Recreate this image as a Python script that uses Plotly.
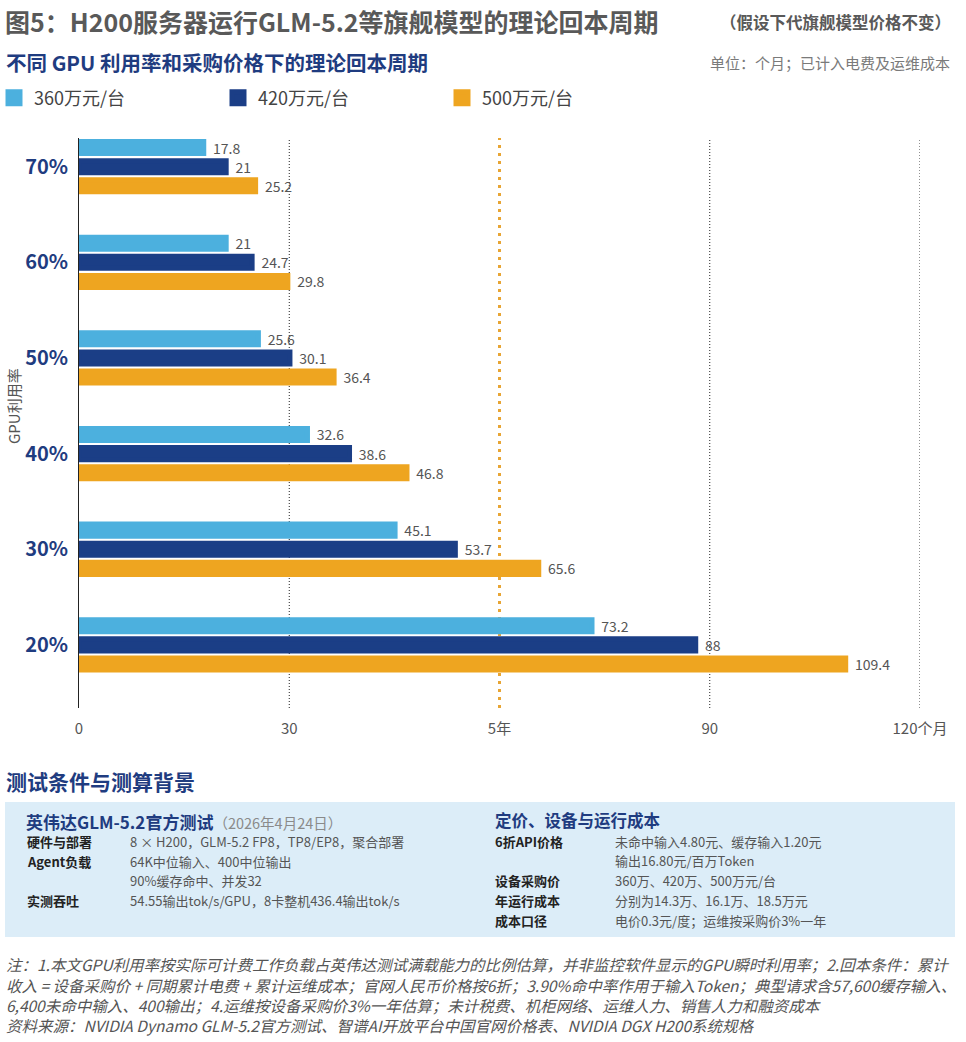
import plotly.graph_objects as go

# ---------------- data ----------------
utilization = ['20%', '30%', '40%', '50%', '60%', '70%']
series_names = ['360万元/台', '420万元/台', '500万元/台']
payback_360 = [73.2, 45.1, 32.6, 25.6, 21, 17.8]
payback_420 = [88, 53.7, 38.6, 30.1, 24.7, 21]
payback_500 = [109.4, 65.6, 46.8, 36.4, 29.8, 25.2]
x_tick_vals = [0, 30, 60, 90, 120]
x_tick_text = ['0', '30', '5年', '90', '120个月']
grid_vals = [30, 90, 120]
five_year_mark = 60

COLORS = ['#4cb0de', '#1b3e86', '#eea520']
FONT = 'Noto Sans CJK SC'

W, H = 966, 1042
L, R, T, B = 79, 920, 138, 708


def px2x(px):
    return (px - L) / (R - L)


def py2y(py):
    return (B - py) / (B - T)


fig = go.Figure()
series = [payback_360, payback_420, payback_500]
# add in reverse so that the 360 series sits at the top of each group
for name, vals, col in reversed(list(zip(series_names, series, COLORS))):
    fig.add_trace(go.Bar(
        y=utilization, x=vals, name=name, orientation='h',
        marker=dict(color=col, line=dict(width=5, color=col)),
        text=vals, texttemplate='\u00a0\u00a0%{x}', textposition='outside',
        constraintext='none',
        textfont=dict(family=FONT, size=14, color='#555555'),
        cliponaxis=False,
    ))

shapes = []
for v in grid_vals:
    shapes.append(dict(type='line', xref='x', yref='paper', x0=v, x1=v, y0=0, y1=1,
                       line=dict(color='#222222', width=1, dash='1px,2px'), layer='below'))
shapes.append(dict(type='line', xref='x', yref='paper', x0=five_year_mark, x1=five_year_mark,
                   y0=0, y1=1, line=dict(color='#e8a534', width=3, dash='3px,5px'), layer='below'))
# info box background
shapes.append(dict(type='rect', xref='paper', yref='paper', x0=px2x(5), x1=px2x(955),
                   y0=py2y(937), y1=py2y(802), fillcolor='#dcedf8', line=dict(width=0), layer='below'))

annotations = []


def ann(text, px, py, size, color, bold=False, xanchor='left', italic=False, angle=0):
    annotations.append(dict(
        text=text, x=px2x(px), y=py2y(py), xref='paper', yref='paper',
        xanchor=xanchor, yanchor='middle', showarrow=False, textangle=angle,
        font=dict(family=FONT, size=size, color=color,
                  weight='bold' if bold else 'normal',
                  style='italic' if italic else 'normal'),
    ))


# titles
ann('图5：H200服务器运行GLM-5.2等旗舰模型的理论回本周期', 3, 21, 25, '#595959', bold=True)
ann('（假设下代旗舰模型价格不变）', 953, 22, 16.5, '#595959', bold=True, xanchor='right')
ann('不同 GPU 利用率和采购价格下的理论回本周期', 4, 62, 20.5, '#1f3c80', bold=True)
ann('单位：个月；已计入电费及运维成本', 952, 62, 15, '#7a7a7a', xanchor='right')
ann('GPU利用率', 13, 406, 15, '#555555', angle=-90, xanchor='center')

# background section
ann('测试条件与测算背景', 4, 781, 21, '#1f3c80', bold=True)
ann('英伟达GLM-5.2官方测试<span style="font-size:14.5px;color:#8a8a8a;font-weight:normal">（2026年4月24日）</span>',
    24, 821, 17, '#1f3c80', bold=True)
left_labels = ['硬件与部署', 'Agent负载', '', '实测吞吐']
left_values = ['8 × H200，GLM-5.2 FP8，TP8/EP8，聚合部署',
               '64K中位输入、400中位输出',
               '90%缓存命中、并发32',
               '54.55输出tok/s/GPU，8卡整机436.4输出tok/s']
left_rows_y = [841, 861, 880, 900]
for lab, val, yy in zip(left_labels, left_values, left_rows_y):
    if lab:
        ann(lab, 25, yy, 13, '#222222', bold=True)
    ann(val, 128, yy, 13, '#555555')

ann('定价、设备与运行成本', 493, 820, 16.5, '#1f3c80', bold=True)
right_labels = ['6折API价格', '', '设备采购价', '年运行成本', '成本口径']
right_values = ['未命中输入4.80元、缓存输入1.20元',
                '输出16.80元/百万Token',
                '360万、420万、500万元/台',
                '分别为14.3万、16.1万、18.5万元',
                '电价0.3元/度；运维按采购价3%一年']
right_rows_y = [841, 860, 880, 900, 920]
for lab, val, yy in zip(right_labels, right_values, right_rows_y):
    if lab:
        ann(lab, 493, yy, 13, '#222222', bold=True)
    ann(val, 613, yy, 13, '#555555')

notes = [
    '注：1.本文GPU利用率按实际可计费工作负载占英伟达测试满载能力的比例估算，并非监控软件显示的GPU瞬时利用率；2.回本条件：累计',
    '收入 = 设备采购价 + 同期累计电费 + 累计运维成本；官网人民币价格按6折；3.90%命中率作用于输入Token；典型请求含57,600缓存输入、',
    '6,400未命中输入、400输出；4.运维按设备采购价3%一年估算；未计税费、机柜网络、运维人力、销售人力和融资成本',
    '资料来源：NVIDIA Dynamo GLM-5.2官方测试、智谱AI开放平台中国官网价格表、NVIDIA DGX H200系统规格',
]
notes_y = [964, 985, 1005, 1025]
for t, yy in zip(notes, notes_y):
    ann(t, 4, yy, 15.5, '#555555', italic=True)

fig.update_layout(
    width=W, height=H,
    margin=dict(l=L, r=W - R, t=T, b=H - B, pad=0, autoexpand=False),
    paper_bgcolor='white', plot_bgcolor='white',
    barmode='group', bargap=0.40, bargroupgap=0.37,
    font=dict(family=FONT),
    xaxis=dict(range=[0, 120], tickvals=x_tick_vals, ticktext=x_tick_text,
               showgrid=False, zeroline=False, showline=False, ticks='', automargin=False,
               tickfont=dict(family=FONT, size=15, color='#555555'), ticklabelstandoff=10),
    yaxis=dict(type='category', categoryorder='array', categoryarray=utilization,
               range=[-0.66, 5.3], showgrid=False, zeroline=False, automargin=False,
               showline=True, linecolor='#222222', linewidth=1, ticks='',
               tickfont=dict(family=FONT, size=20, color='#1f3c80', weight='bold'),
               ticklabelstandoff=6),
    legend=dict(orientation='h', xref='paper', yref='paper',
                x=px2x(-6), y=py2y(98), xanchor='left', yanchor='middle',
                traceorder='reversed', entrywidth=179, entrywidthmode='pixels',
                font=dict(family=FONT, size=18, color='#444444'), bgcolor='rgba(0,0,0,0)'),
    shapes=shapes, annotations=annotations,
)

fig.write_html('out.html', config={'displayModeBar': False},
               post_script="document.body.style.margin='0';document.body.style.overflow='hidden';")
